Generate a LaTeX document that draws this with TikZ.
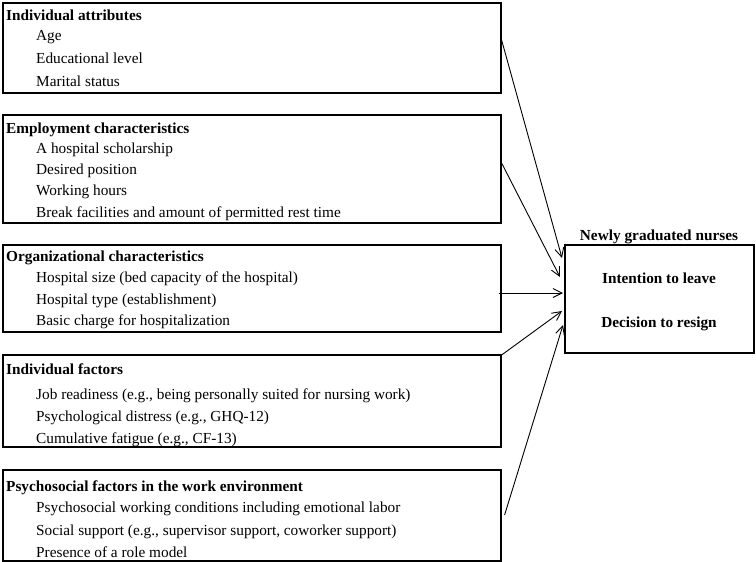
\documentclass[tikz,border=0pt]{standalone}
\usepackage{fontspec}
\setmainfont{Liberation Serif}
\usetikzlibrary{arrows.meta}
\begin{document}
\begin{tikzpicture}[x=1pt,y=-1pt,
  box/.style={draw,line width=1.6pt,inner sep=0pt,anchor=north west},
  head/.style={anchor=base west,inner sep=0pt,font=\fontsize{15.3}{17}\selectfont\bfseries},
  item/.style={anchor=base west,inner sep=0pt,font=\fontsize{15.3}{17}\selectfont},
  ctext/.style={anchor=base,inner sep=0pt,font=\fontsize{15.3}{17}\selectfont\bfseries},
  arr/.style={line width=0.9pt,-{Straight Barb[length=9pt,width=9pt,line width=0.9pt]}}]
\useasboundingbox (0,0) rectangle (756,562);
% boxes
\node[box,minimum width=498pt,minimum height=90pt] (b1) at (2,2) {};
\node[box,minimum width=498pt,minimum height=108pt] (b2) at (2,114) {};
\node[box,minimum width=498pt,minimum height=87pt] (b3) at (2,244) {};
\node[box,minimum width=498pt,minimum height=92pt] (b4) at (2,354) {};
\node[box,minimum width=498pt,minimum height=91pt] (b5) at (2,469) {};
\node[box,minimum width=189pt,minimum height=108pt] (t) at (564,244) {};
% texts box 1
\node[head] (h1) at (6,20) {Individual attributes};
\node[item] (i11) at (36,41) {Age};
\node[item] (i12) at (36,63) {Educational level};
\node[item] (i13) at (36,86) {Marital status};
% box 2
\node[head] (h2) at (6,133) {Employment characteristics};
\node[item] (i21) at (36,153) {A hospital scholarship};
\node[item] (i22) at (36,174) {Desired position};
\node[item] (i23) at (36,195) {Working hours};
\node[item] (i24) at (36,217) {Break facilities and amount of permitted rest time};
% box 3
\node[head] (h3) at (6,261) {Organizational characteristics};
\node[item] (i31) at (36,282) {Hospital size (bed capacity of the hospital)};
\node[item] (i32) at (36,304) {Hospital type (establishment)};
\node[item] (i33) at (36,325) {Basic charge for hospitalization};
% box 4
\node[head] (h4) at (6,374) {Individual factors};
\node[item] (i41) at (36,399) {Job readiness (e.g., being personally suited for nursing work)};
\node[item] (i42) at (36,421) {Psychological distress (e.g., GHQ-12)};
\node[item] (i43) at (36,443) {Cumulative fatigue (e.g., CF-13)};
% box 5
\node[head] (h5) at (6,491) {Psychosocial factors in the work environment};
\node[item] (i51) at (36,512) {Psychosocial working conditions including emotional labor};
\node[item] (i52) at (36,535) {Social support (e.g., supervisor support, coworker support)};
\node[item] (i53) at (36,557) {Presence of a role model};
% target texts
\node[ctext] (tt) at (659,240) {Newly graduated nurses};
\node[ctext] (t1) at (659,283) {Intention to leave};
\node[ctext] (t2) at (659,327) {Decision to resign};
% arrows
\draw[arr] ([yshift=-38pt]b1.north east) -- ([xshift=-2pt,yshift=-14pt]t.north west);
\draw[arr] ([yshift=-49pt]b2.north east) -- ([xshift=-4pt,yshift=-33pt]t.north west);
\draw[arr] ([xshift=-3pt,yshift=-49pt]b3.north east) -- ([xshift=-1pt,yshift=-49pt]t.north west);
\draw[arr] ([yshift=-1pt]b4.north east) -- ([xshift=-2pt,yshift=-67pt]t.north west);
\draw[arr] ([xshift=3pt,yshift=-46pt]b5.north east) -- ([xshift=-1pt,yshift=-81pt]t.north west);
\end{tikzpicture}
\end{document}
